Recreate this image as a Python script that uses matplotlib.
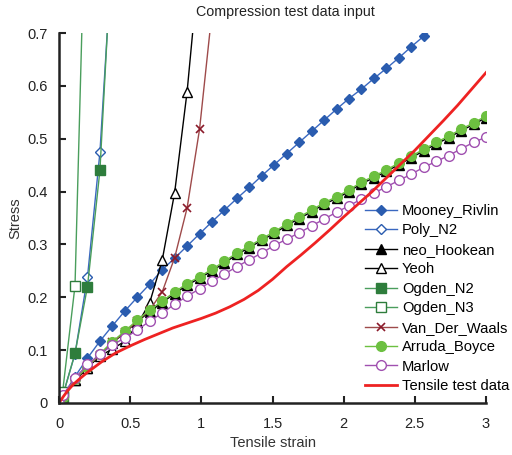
import matplotlib
matplotlib.use("Agg")
import matplotlib.pyplot as plt

plt.rcParams['font.family'] = ['Liberation Sans', 'DejaVu Sans']

# Nominal strain points at which the hyperelastic models were evaluated
strain = [0.0, 0.025, 0.1125, 0.2, 0.2875, 0.375, 0.4625, 0.55, 0.6375, 0.725,
          0.8125, 0.9, 0.9875, 1.075, 1.1625, 1.25, 1.3375, 1.425, 1.5125, 1.6,
          1.6875, 1.775, 1.8625, 1.95, 2.0375, 2.125, 2.2125, 2.3, 2.3875, 2.475,
          2.5625, 2.65, 2.7375, 2.825, 2.9125, 3.0]

mooney_rivlin = [0.0, 0.012, 0.050, 0.085, 0.117, 0.146, 0.174, 0.200, 0.225, 0.252,
                 0.274, 0.297, 0.320, 0.343, 0.365, 0.387, 0.408, 0.430, 0.451, 0.472,
                 0.493, 0.514, 0.535, 0.556, 0.576, 0.594, 0.614, 0.633, 0.653, 0.674,
                 0.694, 0.714, 0.734, 0.754, 0.774, 0.794]
poly_n2 = [0.0, 0.013, 0.093, 0.238, 0.474, 0.86]
neo_hookean = [0.0, 0.011, 0.043, 0.067, 0.090, 0.114, 0.133, 0.154, 0.173, 0.190,
               0.207, 0.223, 0.236, 0.250, 0.265, 0.281, 0.294, 0.308, 0.321, 0.336,
               0.349, 0.362, 0.376, 0.387, 0.400, 0.415, 0.426, 0.438, 0.451, 0.464,
               0.477, 0.490, 0.502, 0.515, 0.527, 0.540]
yeoh = [0.0, 0.012, 0.043, 0.067, 0.089, 0.102, 0.117, 0.148, 0.190, 0.270,
        0.398, 0.589, 0.84]
ogden_n2 = [0.0, 0.012, 0.094, 0.220, 0.440, 0.88]
ogden_n3 = [0.0, 0.020, 0.222, 1.10]
van_der_waals = [0.0, 0.012, 0.044, 0.068, 0.091, 0.115, 0.134, 0.155, 0.176, 0.210,
                 0.275, 0.369, 0.518, 0.74]
arruda_boyce = [0.0, 0.012, 0.045, 0.069, 0.093, 0.116, 0.136, 0.157, 0.176, 0.193,
                0.210, 0.226, 0.239, 0.253, 0.268, 0.284, 0.297, 0.311, 0.324, 0.339,
                0.352, 0.365, 0.379, 0.390, 0.403, 0.418, 0.429, 0.441, 0.454, 0.467,
                0.480, 0.493, 0.505, 0.518, 0.530, 0.543]
marlow = [0.0, 0.0145, 0.047, 0.073, 0.092, 0.110, 0.123, 0.138, 0.155, 0.170,
          0.187, 0.202, 0.216, 0.231, 0.244, 0.258, 0.271, 0.284, 0.298, 0.310,
          0.322, 0.335, 0.348, 0.361, 0.373, 0.386, 0.397, 0.409, 0.421, 0.433,
          0.446, 0.457, 0.468, 0.481, 0.493, 0.503]

# Measured uniaxial tensile curve
test_strain = [0.0, 0.03, 0.06, 0.1, 0.15, 0.2, 0.3, 0.4, 0.5, 0.6, 0.7, 0.8, 0.9,
               1.0, 1.1, 1.2, 1.3, 1.4, 1.5, 1.6, 1.7, 1.8, 1.9, 2.0, 2.1, 2.2,
               2.3, 2.4, 2.5, 2.6, 2.7, 2.8, 2.9, 3.0]
test_stress = [0.0, 0.012, 0.023, 0.035, 0.047, 0.058, 0.078, 0.095, 0.108, 0.120,
               0.131, 0.142, 0.151, 0.160, 0.170, 0.182, 0.196, 0.213, 0.234, 0.258,
               0.280, 0.303, 0.327, 0.352, 0.376, 0.400, 0.426, 0.452, 0.478, 0.506,
               0.534, 0.563, 0.594, 0.625]

x_ticks = [0, 0.5, 1, 1.5, 2, 2.5, 3]
x_tick_labels = ['0', '0.5', '1', '1.5', '2', '2.5', '3']
y_ticks = [0, 0.1, 0.2, 0.3, 0.4, 0.5, 0.6, 0.7]
y_tick_labels = ['0', '0.1', '0.2', '0.3', '0.4', '0.5', '0.6', '0.7']

fig = plt.figure(figsize=(5.12, 4.55), dpi=100)
ax = fig.add_axes([59 / 512, 52 / 455, 427 / 512, 370 / 455])

lw = 1.0


def series(values, label, line, marker, size, face, edge, mew=1.0):
    ax.plot(strain[:len(values)], values, color=line, lw=lw, marker=marker,
            markersize=size, markerfacecolor=face, markeredgecolor=edge,
            markeredgewidth=mew, label=label)


series(mooney_rivlin, 'Mooney_Rivlin', '#3a68c0', 'D', 5.5, '#2a5caf', '#2a5caf')
series(poly_n2, 'Poly_N2', '#3a68c0', 'D', 5.5, 'white', '#2a5caf')
series(neo_hookean, 'neo_Hookean', 'black', '^', 7.0, 'black', 'black')
series(yeoh, 'Yeoh', 'black', '^', 7.0, 'white', 'black')
series(ogden_n2, 'Ogden_N2', '#4a9e5c', 's', 6.5, '#2e7d3c', '#2e7d3c')
series(ogden_n3, 'Ogden_N3', '#4a9e5c', 's', 6.5, 'white', '#2e7d3c')
series(van_der_waals, 'Van_Der_Waals', '#9e4a4a', 'x', 5.5, '#8b1a2a', '#8b1a2a', 1.2)
series(arruda_boyce, 'Arruda_Boyce', '#6cc040', 'o', 7.0, '#6cc040', '#6cc040')
series(marlow, 'Marlow', '#a050b0', 'o', 7.0, 'white', '#a050b0')
ax.plot(test_strain, test_stress, color='#ee2222', lw=2.0, label='Tensile test data')

ax.set_xlim(0, 3)
ax.set_ylim(0, 0.7)
ax.set_xticks(x_ticks)
ax.set_xticklabels(x_tick_labels)
ax.set_yticks(y_ticks)
ax.set_yticklabels(y_tick_labels)
ax.tick_params(direction='in', length=5, width=1.5, labelsize=10.5, colors='#222222')
ax.tick_params(axis='x', pad=10)
ax.tick_params(axis='y', pad=8)
for side in ('top', 'right'):
    ax.spines[side].set_visible(False)
for side in ('left', 'bottom'):
    ax.spines[side].set_linewidth(1.8)
    ax.spines[side].set_color('#222222')
    ax.spines[side].set_clip_on(False)

ax.set_xlabel('Tensile strain', fontsize=10.5, color='#333333', labelpad=4)
ax.set_ylabel('Stress', fontsize=10.5, color='#333333', labelpad=4)

fig.text(285 / 512, 1 - 12 / 455, 'Compression test data input', ha='center',
         va='center', fontsize=10.3, color='#222222')

ax.legend(loc='upper left', bbox_to_anchor=(365 / 512, 1 - 204 / 455),
          bbox_transform=fig.transFigure, frameon=False, fontsize=10.6,
          handlelength=2.2, handletextpad=0.3, labelspacing=0.37,
          borderpad=0, borderaxespad=0)

fig.savefig('out.png', dpi=100)
